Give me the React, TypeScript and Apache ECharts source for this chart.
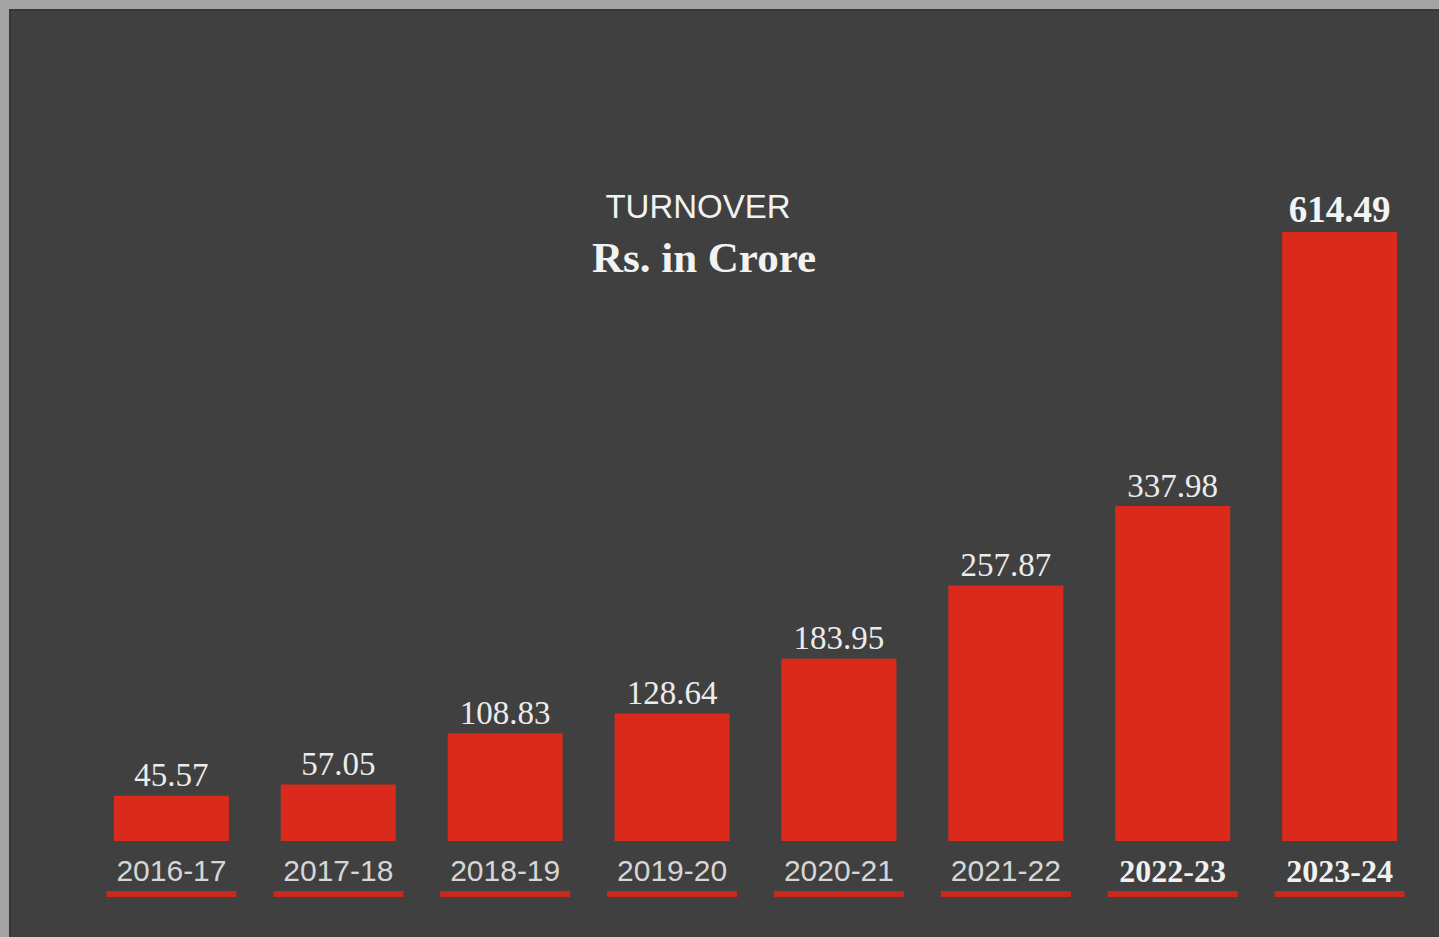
import React, { useEffect, useRef } from "react";
import * as echarts from "echarts";

const categories = ["2016-17", "2017-18", "2018-19", "2019-20", "2020-21", "2021-22", "2022-23", "2023-24"];
const turnover = [45.57, 57.05, 108.83, 128.64, 183.95, 257.87, 337.98, 614.49];
const serifCategories = ["2022-23", "2023-24"];
const highlightValue = 614.49;

export default function App() {
  const ref = useRef<HTMLDivElement>(null);

  useEffect(() => {
    document.body.style.margin = "0";
    if (!ref.current) return;
    const chart = echarts.init(ref.current, null, { renderer: "svg" });

    const xData = categories.map((c) =>
      serifCategories.includes(c)
        ? {
            value: c,
            textStyle: {
              fontFamily: "Liberation Serif, serif",
              fontWeight: "bold",
              fontSize: 32,
              color: "#f0f0f0",
            },
          }
        : { value: c }
    );

    const barData = turnover.map((v) =>
      v === highlightValue
        ? {
            value: v,
            label: { fontWeight: "bold", fontSize: 37, color: "#f4f4f4" },
          }
        : { value: v }
    );

    chart.setOption({
      animation: false,
      backgroundColor: "#a3a3a3",
      graphic: [
        {
          type: "rect",
          z: -10,
          shape: { x: 10, y: 10, width: 1440, height: 940 },
          style: { fill: "#404040", stroke: "#383838", lineWidth: 2 },
        },
        {
          type: "text",
          x: 698,
          y: 206,
          style: {
            text: "TURNOVER",
            fill: "#f2f2f2",
            font: "normal 33px 'Liberation Sans', Arial, sans-serif",
            textAlign: "center",
            textVerticalAlign: "middle",
          },
        },
        {
          type: "text",
          x: 704,
          y: 257,
          style: {
            text: "Rs. in Crore",
            fill: "#f2f2f2",
            font: "bold 43px 'Liberation Serif', 'Times New Roman', serif",
            textAlign: "center",
            textVerticalAlign: "middle",
          },
        },
      ],
      grid: { left: 88, right: 16, top: 232, bottom: 96, containLabel: false },
      xAxis: {
        type: "category",
        data: xData,
        axisLine: { show: false },
        axisTick: { show: false },
        axisLabel: {
          margin: 14,
          fontFamily: "Liberation Sans, Arial, sans-serif",
          fontSize: 30,
          color: "#d6d6d6",
        },
      },
      yAxis: {
        type: "value",
        min: 0,
        max: "dataMax",
        show: false,
        splitLine: { show: false },
      },
      series: [
        {
          type: "bar",
          data: barData,
          barWidth: 115,
          itemStyle: { color: "#d92a1b" },
          label: {
            show: true,
            position: "top",
            distance: 4,
            fontFamily: "Liberation Serif, 'Times New Roman', serif",
            fontSize: 33,
            color: "#ececec",
          },
        },
        {
          type: "custom",
          clip: false,
          silent: true,
          data: turnover.map((_, i) => i),
          renderItem: (params: any, api: any) => {
            const pt = api.coord([api.value(0), 0]);
            const w = 130;
            return {
              type: "rect",
              shape: { x: pt[0] - w / 2, y: pt[1] + 50, width: w, height: 6 },
              style: { fill: "#c9281c" },
            };
          },
          encode: { x: 0 },
        },
      ],
    });

    return () => chart.dispose();
  }, []);

  return <div ref={ref} style={{ width: 1439, height: 937 }} />;
}
